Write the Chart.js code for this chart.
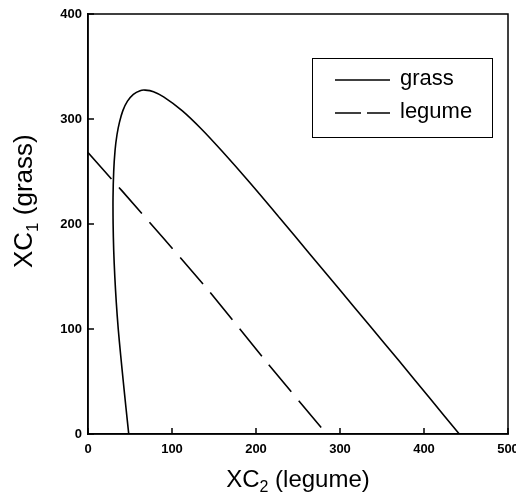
<!DOCTYPE html>
<html>
<head>
<meta charset="utf-8">
<script src="https://cdn.jsdelivr.net/npm/chart.js@4/dist/chart.umd.min.js"></script>
<style>
  html, body { margin: 0; padding: 0; background: #fff; }
  #wrap { width: 516px; height: 492px; }
</style>
</head>
<body>
<div id="wrap"><canvas id="c" width="516" height="492"></canvas></div>
<script>
// ---- data ----
const grassX = [48.5, 45.2, 42, 38.9, 36, 33.7, 31.9, 30.6, 29.9, 29.8, 30.6, 32.2, 34.5, 37.5, 41.5, 47, 54, 62, 68, 78, 90, 112, 135, 160, 192, 228, 264, 298, 335, 370, 407, 442];
const grassY = [0, 25, 50, 75, 100, 125, 150, 175, 200, 225, 250, 270, 285, 297, 308, 317, 323.5, 327, 327.5, 326, 321, 308, 290.5, 269, 240, 206, 171.5, 139, 103.5, 70, 34, 0];
const legumeX = [0, 40, 140, 210, 284];
const legumeY = [268, 232, 140, 71, 0];
const xTicks = [0, 100, 200, 300, 400, 500];
const yTicks = [0, 100, 200, 300, 400];
const seriesNames = ['grass', 'legume'];
const xTitle = ['XC', '2', ' (legume)'];
const yTitle = ['XC', '1', ' (grass)'];

const FONT = '"Liberation Sans", Arial, Helvetica, sans-serif';
const toPts = (xs, ys) => xs.map((x, i) => ({ x: x, y: ys[i] }));

function measureTitle(ctx, parts, size) {
  const sub = Math.round(size * 0.65);
  ctx.font = size + 'px ' + FONT;
  const w0 = ctx.measureText(parts[0]).width;
  ctx.font = sub + 'px ' + FONT;
  const w1 = ctx.measureText(parts[1]).width;
  ctx.font = size + 'px ' + FONT;
  const w2 = ctx.measureText(parts[2]).width;
  return { w0, w1, w2, total: w0 + w1 + w2, sub };
}
function renderTitle(ctx, parts, size, x, y) {
  const m = measureTitle(ctx, parts, size);
  ctx.textBaseline = 'alphabetic';
  ctx.textAlign = 'left';
  ctx.font = size + 'px ' + FONT;
  ctx.fillText(parts[0], x, y);
  ctx.font = m.sub + 'px ' + FONT;
  ctx.fillText(parts[1], x + m.w0, y + Math.round(size * 0.22));
  ctx.font = size + 'px ' + FONT;
  ctx.fillText(parts[2], x + m.w0 + m.w1, y);
  return m;
}

const framePlugin = {
  id: 'frameAndText',
  afterDraw(chart) {
    const ctx = chart.ctx;
    const a = chart.chartArea;
    const xs = chart.scales.x, ys = chart.scales.y;
    ctx.save();
    ctx.setLineDash([]);
    // plot frame
    ctx.strokeStyle = '#000';
    ctx.lineWidth = 1.5;
    ctx.strokeRect(a.left, a.top, a.right - a.left, a.bottom - a.top);

    // inward tick marks, positioned by the library's scales
    ctx.lineWidth = 1.5;
    ctx.beginPath();
    xTicks.forEach(v => {
      const px = xs.getPixelForValue(v);
      ctx.moveTo(px, a.bottom);
      ctx.lineTo(px, a.bottom - 6);
    });
    yTicks.forEach(v => {
      const py = ys.getPixelForValue(v);
      ctx.moveTo(a.left, py);
      ctx.lineTo(a.left + 6, py);
    });
    ctx.stroke();

    // axis titles
    ctx.fillStyle = '#000';
    const xSize = 24;
    const mx = measureTitle(ctx, xTitle, xSize);
    renderTitle(ctx, xTitle, xSize, (a.left + a.right) / 2 - mx.total / 2, 487);

    ctx.save();
    ctx.translate(32, a.bottom - 166);
    ctx.rotate(-Math.PI / 2);
    renderTitle(ctx, yTitle, 26, 0, 0);
    ctx.restore();

    // legend box
    const bx = a.left + 224, by = a.top + 44, bw = 180, bh = 79;
    ctx.lineWidth = 1;
    ctx.strokeStyle = '#000';
    ctx.strokeRect(bx + 0.5, by + 0.5, bw, bh);
    const rows = [a.top + 66, a.top + 99];
    chart.data.datasets.forEach((ds, i) => {
      const yy = rows[i];
      ctx.beginPath();
      ctx.lineWidth = 1.5;
      ctx.setLineDash(i === 0 ? [] : [26, 6]);
      ctx.moveTo(bx + 23, yy);
      ctx.lineTo(bx + 78, yy);
      ctx.stroke();
      ctx.setLineDash([]);
      ctx.font = '22px ' + FONT;
      ctx.textAlign = 'left';
      ctx.textBaseline = 'middle';
      ctx.fillText(ds.label, bx + 88, yy - 1);
    });
    ctx.restore();
  }
};

new Chart(document.getElementById('c'), {
  type: 'scatter',
  data: {
    datasets: [
      {
        label: seriesNames[0],
        data: toPts(grassX, grassY),
        showLine: true,
        borderColor: '#000',
        backgroundColor: '#000',
        borderWidth: 1.6,
        pointRadius: 0,
        tension: 0.3,
        fill: false
      },
      {
        label: seriesNames[1],
        data: toPts(legumeX, legumeY),
        showLine: true,
        borderColor: '#000',
        backgroundColor: '#000',
        borderWidth: 1.6,
        borderDash: [35, 11.5],
        pointRadius: 0,
        tension: 0.2,
        fill: false
      }
    ]
  },
  options: {
    responsive: false,
    animation: false,
    devicePixelRatio: 1,
    layout: { padding: { top: 14, right: 8, left: 0, bottom: 0 } },
    plugins: {
      legend: { display: false },
      tooltip: { enabled: false },
      title: { display: false }
    },
    scales: {
      x: {
        type: 'linear',
        position: 'bottom',
        min: 0, max: 500,
        afterBuildTicks: s => { s.ticks = xTicks.map(v => ({ value: v })); },
        ticks: {
          color: '#000',
          font: { family: FONT, size: 13, weight: 'bold' },
          padding: 8,
          maxRotation: 0,
          autoSkip: false
        },
        grid: { drawOnChartArea: false, drawTicks: false },
        border: { display: true, color: '#000', width: 1.5 },
        afterFit: s => { s.height = 58; s.paddingLeft = 0; s.paddingRight = 0; }
      },
      y: {
        type: 'linear',
        position: 'left',
        min: 0, max: 400,
        afterBuildTicks: s => { s.ticks = yTicks.map(v => ({ value: v })); },
        ticks: {
          color: '#000',
          font: { family: FONT, size: 13, weight: 'bold' },
          padding: 6,
          autoSkip: false
        },
        grid: { drawOnChartArea: false, drawTicks: false },
        border: { display: true, color: '#000', width: 1.5 },
        afterFit: s => { s.width = 88; s.paddingTop = 0; s.paddingBottom = 0; }
      }
    }
  },
  plugins: [framePlugin]
});
</script>
</body>
</html>
